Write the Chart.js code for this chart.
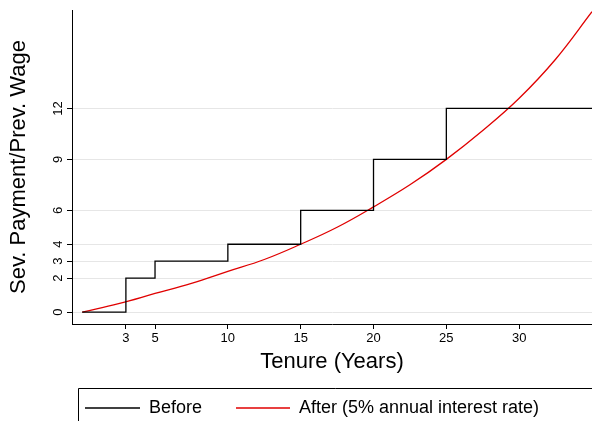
<!DOCTYPE html>
<html><head><meta charset="utf-8">
<script src="https://cdn.jsdelivr.net/npm/chart.js@4.4.1/dist/chart.umd.min.js"></script>
<style>body{margin:0;background:#fff}#wrap{width:592px;height:421px}</style>
</head><body><div id="wrap"><canvas id="c"></canvas></div>
<script>
const xTicks = [3, 5, 10, 15, 20, 25, 30];
const yTicks = [0, 2, 3, 4, 6, 9, 12];
const stepTenure = [0, 3, 5, 10, 15, 20, 25, 35];
const stepPay = [0, 2, 3, 4, 6, 9, 12, 12];
const afterTenure = [0, 2.5, 5, 7.5, 10, 12.5, 15, 17.5, 20, 22.5, 25, 27.5, 30, 32.5, 35];
const afterPay = [0, 0.5, 1.1, 1.7, 2.4, 3.1, 4.0, 5.0, 6.2, 7.5, 9.0, 10.7, 12.6, 14.9, 17.7];
const FONT = "'Liberation Sans', Arial, sans-serif";

const rotYLabels = {
  id: 'rotY',
  afterDraw(chart) {
    const ctx = chart.ctx, y = chart.scales.y;
    ctx.save();
    ctx.fillStyle = '#000'; ctx.font = '13px ' + FONT;
    ctx.textAlign = 'center'; ctx.textBaseline = 'bottom';
    yTicks.forEach(v => {
      ctx.save();
      ctx.translate(y.right - 7, y.getPixelForValue(v));
      ctx.rotate(-Math.PI / 2);
      ctx.fillText(String(v), 0, 0);
      ctx.restore();
    });
    // legend
    const top = 388;
    ctx.strokeStyle = '#000'; ctx.lineWidth = 1;
    ctx.beginPath(); ctx.moveTo(78.5, 421); ctx.lineTo(78.5, top + .5); ctx.lineTo(592, top + .5); ctx.stroke();
    ctx.font = '18px ' + FONT; ctx.textAlign = 'left'; ctx.textBaseline = 'middle';
    const ly = 408;
    ctx.strokeStyle = '#000'; ctx.lineWidth = 1.3;
    ctx.beginPath(); ctx.moveTo(85, ly); ctx.lineTo(140, ly); ctx.stroke();
    ctx.fillText('Before', 149, ly);
    ctx.strokeStyle = '#e00000';
    ctx.beginPath(); ctx.moveTo(236, ly); ctx.lineTo(290, ly); ctx.stroke();
    ctx.fillText('After (5% annual interest rate)', 299, ly);
    ctx.restore();
  }
};

new Chart(document.getElementById('c'), {
  type: 'scatter',
  data: {
    datasets: [
      { label: 'Before', data: stepTenure.map((x, i) => ({ x, y: stepPay[i] })), showLine: true, stepped: 'before',
        borderColor: '#000', borderWidth: 1.3, pointRadius: 0 },
      { label: 'After (5% annual interest rate)', data: afterTenure.map((x, i) => ({ x, y: afterPay[i] })), showLine: true,
        tension: 0.4, borderColor: '#e00000', borderWidth: 1.3, pointRadius: 0 }
    ]
  },
  options: {
    responsive: true, maintainAspectRatio: false, animation: false,
    layout: { padding: { top: 10, right: 0, bottom: 42, left: 6 } },
    plugins: { legend: { display: false }, tooltip: { enabled: false } },
    scales: {
      x: {
        type: 'linear', min: -0.7, max: 35,
        afterBuildTicks: s => { s.ticks = xTicks.map(v => ({ value: v })); },
        grid: { display: true, drawOnChartArea: false, tickLength: 5, color: '#000' },
        border: { color: '#000' },
        ticks: { color: '#000', font: { size: 13, family: FONT }, padding: 2, maxRotation: 0 },
        title: { display: true, text: 'Tenure (Years)', color: '#000', font: { size: 22, family: FONT }, padding: { top: 0 } }
      },
      y: {
        type: 'linear', min: -0.7, max: 17.8,
        afterBuildTicks: s => { s.ticks = yTicks.map(v => ({ value: v })); },
        afterFit: s => { s.width = 66; },
        grid: { color: '#e6e6e6', tickLength: 5, tickColor: '#000', lineWidth: 1 },
        border: { color: '#000' },
        ticks: { display: false },
        title: { display: true, text: 'Sev. Payment/Prev. Wage', color: '#000', font: { size: 22, family: FONT }, padding: 0 }
      }
    }
  },
  plugins: [rotYLabels]
});
</script></body></html>
